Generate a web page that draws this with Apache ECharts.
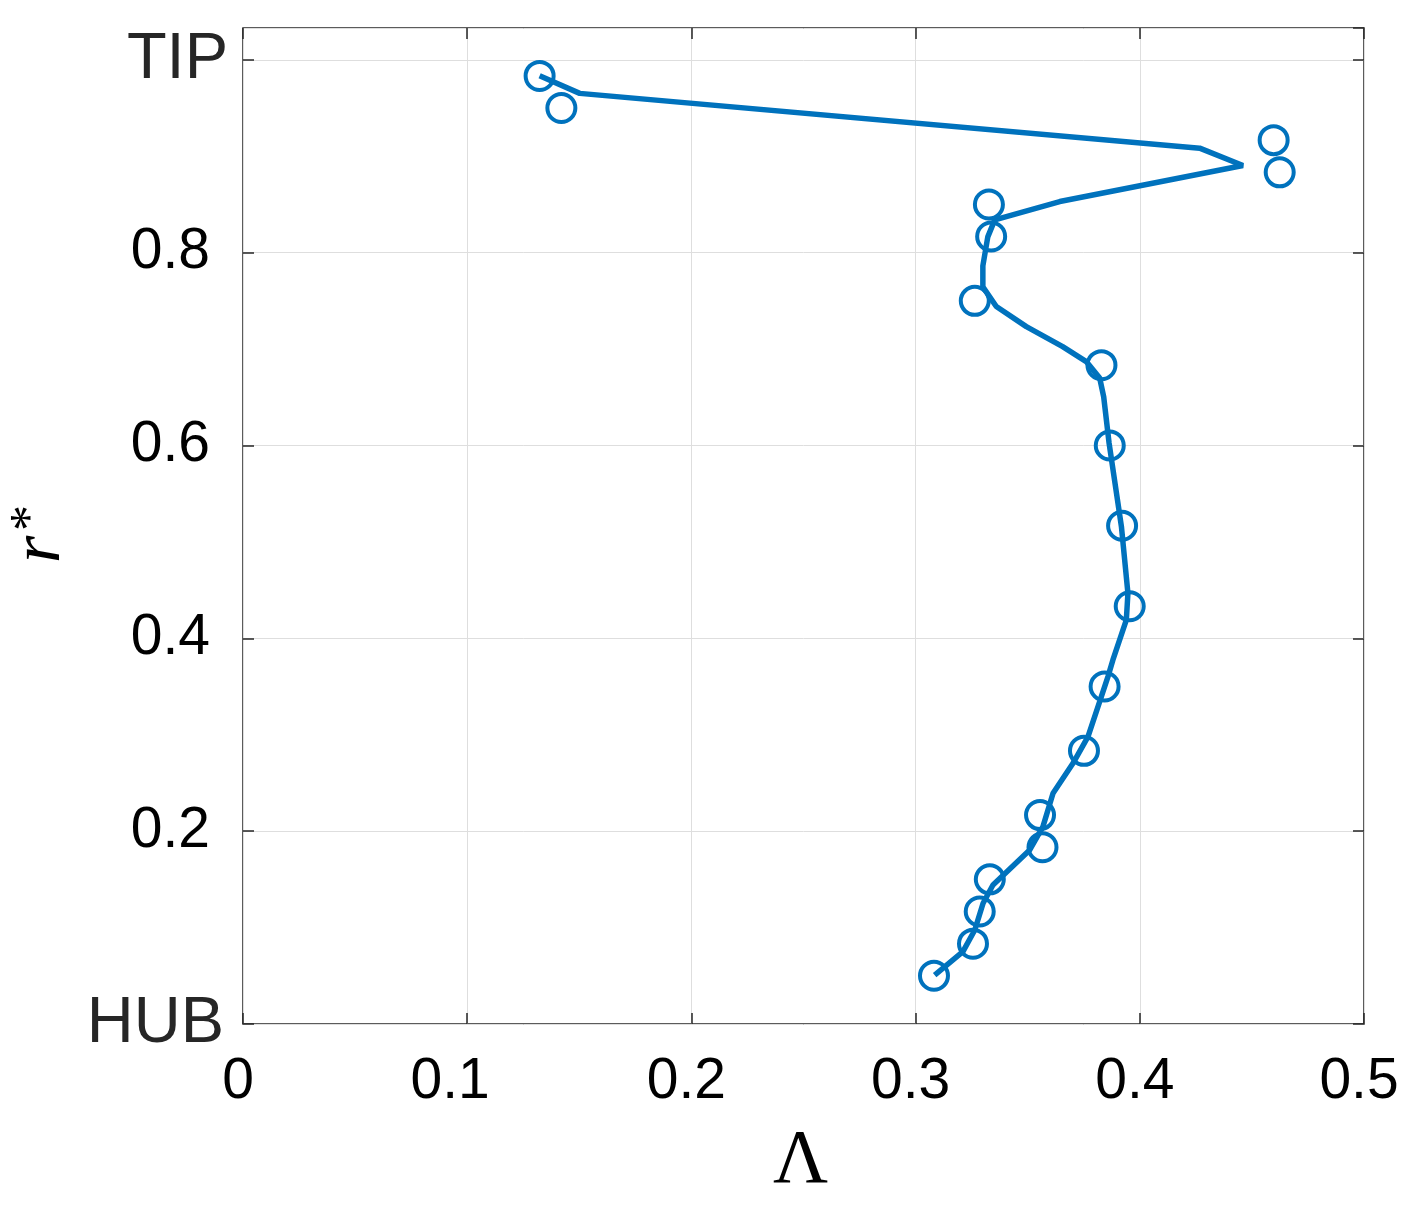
<!DOCTYPE html>
<html>
<head>
<meta charset="utf-8">
<script src="https://cdn.jsdelivr.net/npm/echarts@6/dist/echarts.min.js"></script>
<style>
html,body{margin:0;padding:0;background:#fff;}
#chart{width:1426px;height:1222px;}
</style>
</head>
<body>
<div id="chart"></div>
<script>
// Measured points (markers): Lambda vs r*
const markerLambda = [0.1323, 0.1420, 0.4597, 0.4624, 0.3327, 0.3337, 0.3264, 0.3829, 0.3866, 0.3921, 0.3955, 0.3843, 0.3751, 0.3555, 0.3566, 0.3331, 0.3286, 0.3256, 0.3082];
const markerR = [0.9833, 0.9500, 0.9167, 0.8833, 0.8500, 0.8167, 0.7500, 0.6833, 0.6000, 0.5167, 0.4333, 0.3500, 0.2833, 0.2167, 0.1833, 0.1500, 0.1167, 0.0833, 0.0500];

// Curve (line)
const lineLambda = [0.1323, 0.1502, 0.4267, 0.4460, 0.3643, 0.3353, 0.3322, 0.3300, 0.3300, 0.3360, 0.3494, 0.3656, 0.3763, 0.3821, 0.3839, 0.3863, 0.3918, 0.3947, 0.3940, 0.3880, 0.3858, 0.3821, 0.3769, 0.3702, 0.3613, 0.3568, 0.3509, 0.3345, 0.3301, 0.3264, 0.3211, 0.3085];
const lineR = [0.9834, 0.9652, 0.9084, 0.8904, 0.8530, 0.8340, 0.8164, 0.7863, 0.7645, 0.7441, 0.7233, 0.7026, 0.6867, 0.6701, 0.6504, 0.6024, 0.5159, 0.4468, 0.4191, 0.3776, 0.3603, 0.3343, 0.2980, 0.2704, 0.2393, 0.2047, 0.1805, 0.1442, 0.1252, 0.0975, 0.0750, 0.0508];

// Tick labels
const xTickValues = [0, 0.1, 0.2, 0.3, 0.4, 0.5];
const xTickLabels = ['0', '0.1', '0.2', '0.3', '0.4', '0.5'];
const yTickValues = [0, 0.2, 0.4, 0.6, 0.8, 1.0];
const yTickLabels = ['HUB', '0.2', '0.4', '0.6', '0.8', 'TIP'];

const BLUE = '#0072BD';
const AX = '#262626';

function findLabel(vals, labels, v) {
  for (let i = 0; i < vals.length; i++) if (Math.abs(vals[i] - v) < 1e-6) return labels[i];
  return null;
}

function tickStyle() {
  return {show: true, inside: true, length: 11, lineStyle: {color: AX, width: 1.5}};
}

const chart = echarts.init(document.getElementById('chart'));
const option = {
  backgroundColor: '#fff',
  animation: false,
  grid: {left: 243, right: 62, top: 28, bottom: 198, show: true, borderColor: AX, borderWidth: 1.5, backgroundColor: 'transparent', containLabel: false, outerBoundsMode: 'none'},
  xAxis: [{
    type: 'value', min: 0, max: 0.5, interval: 0.1, position: 'bottom',
    axisLine: {show: false, onZero: false},
    axisTick: tickStyle(),
    splitLine: {show: true, lineStyle: {color: '#dedede', width: 1}},
    axisLabel: {
      margin: 30,
      formatter: v => {
        const s = findLabel(xTickValues, xTickLabels, v);
        if (s === null) return '';
        return (s.slice(-1) === '1' ? '{m|' : '{n|') + s + '}';
      },
      rich: {
        n: {fontFamily: 'Liberation Sans', fontSize: 57, color: '#000', padding: [0, 10, 0, 0]},
        m: {fontFamily: 'Liberation Sans', fontSize: 57, color: '#000', padding: [0, 34, 0, 0]}
      }
    },
    name: 'Λ', nameLocation: 'middle', nameGap: 100,
    nameTextStyle: {fontFamily: 'Liberation Serif', fontSize: 76, color: '#000', padding: [0, 6, 0, 0]}
  }, {
    type: 'value', min: 0, max: 0.5, interval: 0.1, position: 'top',
    axisLine: {show: false, onZero: false}, axisTick: tickStyle(), splitLine: {show: false}, axisLabel: {show: false}
  }],
  yAxis: [{
    type: 'value', min: 0, max: 1.033, interval: 0.2, position: 'left',
    axisLine: {show: false, onZero: false},
    axisTick: tickStyle(),
    splitLine: {show: true, lineStyle: {color: '#dedede', width: 1}},
    axisLabel: {
      margin: 14,
      showMaxLabel: false,
      formatter: v => {
        const s = findLabel(yTickValues, yTickLabels, v);
        if (s === null) return '';
        if (s === 'TIP') return '{t|' + s + '}';
        if (s === 'HUB') return '{h|' + s + '}';
        return '{n|' + s + '}';
      },
      rich: {
        n: {fontFamily: 'Liberation Sans', fontSize: 57, color: '#000', padding: [0, 19, 0, 0]},
        t: {fontFamily: 'Liberation Sans', fontSize: 65, color: AX, padding: [0, 1, 0, 0]},
        h: {fontFamily: 'Liberation Sans', fontSize: 65, color: AX, padding: [0, 5, 0, 0]}
      }
    },
    name: '{r|r}{s|*}', nameLocation: 'middle', nameGap: 151, nameRotate: 90,
    nameTextStyle: {
      padding: [0, 16, 0, 0],
      rich: {
        r: {fontFamily: 'Liberation Serif', fontStyle: 'italic', fontSize: 70, color: '#000', verticalAlign: 'bottom', padding: [0, 5, 0, 0]},
        s: {fontFamily: 'Liberation Serif', fontSize: 52, color: '#000', verticalAlign: 'top'}
      }
    }
  }, {
    type: 'value', min: 0, max: 1.033, interval: 0.2, position: 'right',
    axisLine: {show: false, onZero: false}, axisTick: tickStyle(), splitLine: {show: false}, axisLabel: {show: false}
  }],
  series: [{
    type: 'line',
    data: lineLambda.map((x, i) => [x, lineR[i]]),
    showSymbol: false, symbol: 'none',
    lineStyle: {color: BLUE, width: 5.5},
    z: 3
  }, {
    type: 'scatter',
    data: markerLambda.map((x, i) => [x, markerR[i]]),
    symbol: 'circle', symbolSize: 28,
    itemStyle: {color: 'transparent', borderColor: BLUE, borderWidth: 4, opacity: 1},
    z: 4
  }]
};
chart.setOption(option);
</script>
</body>
</html>
